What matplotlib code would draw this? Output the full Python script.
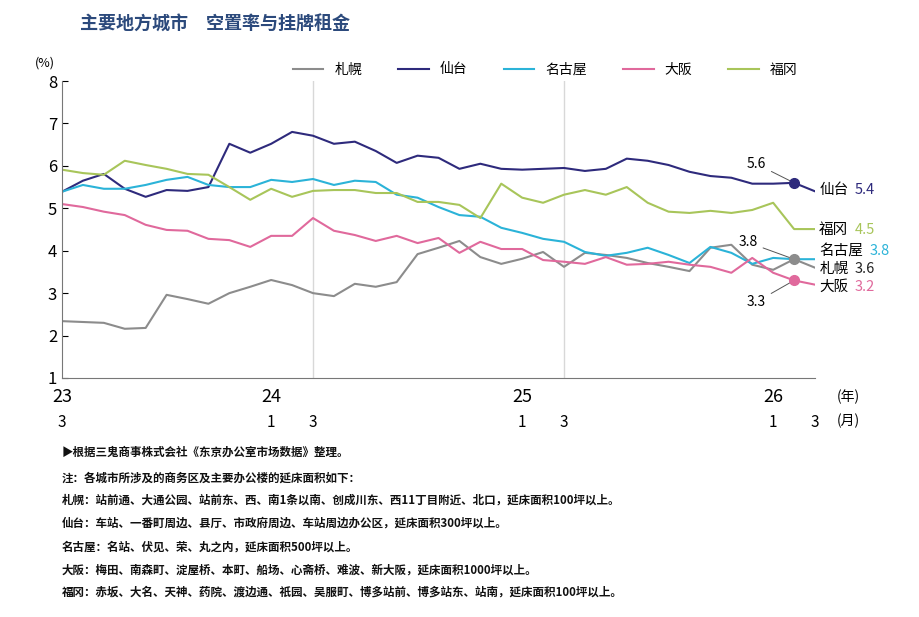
import numpy as np
import matplotlib.pyplot as plt

plt.rcParams['font.family'] = ['Noto Sans CJK SC', 'DejaVu Sans']

cities = ['札幌', '仙台', '名古屋', '大阪', '福冈']
colors = ['#8c8c8c', '#2e2a7c', '#2bb3d8', '#e0699c', '#a8c55a']

sapporo = [2.34, 2.32, 2.30, 2.16, 2.18, 2.96, 2.86, 2.75, 3.00, 3.15, 3.31, 3.19,
           3.00, 2.93, 3.22, 3.15, 3.26, 3.92, 4.07, 4.23, 3.85, 3.69, 3.81, 3.97,
           3.62, 3.95, 3.90, 3.83, 3.71, 3.62, 3.52, 4.07, 4.14, 3.67, 3.55, 3.80, 3.60]
sendai = [5.39, 5.65, 5.81, 5.46, 5.27, 5.43, 5.41, 5.50, 6.52, 6.31, 6.52, 6.80,
          6.71, 6.52, 6.57, 6.35, 6.07, 6.24, 6.19, 5.93, 6.05, 5.93, 5.91, 5.93,
          5.95, 5.88, 5.93, 6.17, 6.12, 6.02, 5.86, 5.76, 5.72, 5.58, 5.58, 5.60, 5.40]
nagoya = [5.39, 5.55, 5.46, 5.46, 5.55, 5.67, 5.74, 5.55, 5.50, 5.50, 5.67, 5.62,
          5.69, 5.55, 5.65, 5.62, 5.32, 5.25, 5.03, 4.84, 4.80, 4.54, 4.42, 4.28,
          4.21, 3.97, 3.88, 3.95, 4.07, 3.90, 3.71, 4.09, 3.95, 3.69, 3.83, 3.80, 3.80]
osaka = [5.10, 5.03, 4.92, 4.84, 4.61, 4.49, 4.47, 4.28, 4.25, 4.09, 4.35, 4.35,
         4.77, 4.47, 4.37, 4.23, 4.35, 4.18, 4.30, 3.95, 4.21, 4.04, 4.04, 3.78,
         3.74, 3.69, 3.85, 3.67, 3.69, 3.74, 3.67, 3.62, 3.48, 3.83, 3.48, 3.30, 3.20]
fukuoka = [5.91, 5.83, 5.79, 6.12, 6.02, 5.93, 5.81, 5.79, 5.50, 5.20, 5.46, 5.27,
           5.41, 5.43, 5.43, 5.36, 5.36, 5.15, 5.15, 5.08, 4.77, 5.58, 5.25, 5.13,
           5.32, 5.43, 5.32, 5.50, 5.13, 4.92, 4.89, 4.94, 4.89, 4.96, 5.13, 4.51, 4.51]
series = [sapporo, sendai, nagoya, osaka, fukuoka]

year_pos = [0, 10, 22, 34]
year_labels = ['23', '24', '25', '26']
month_pos = [0, 10, 12, 22, 24, 34, 36]
month_labels = ['3', '1', '3', '1', '3', '1', '3']

fig = plt.figure(figsize=(9.2, 6.17), dpi=100)
ax = fig.add_axes([62/920, 1-378/617, (815-62)/920, (378-81)/617])
x = np.arange(len(sendai))

for vals, c, name in zip(series, colors, cities):
    ax.plot(x, vals, color=c, lw=1.5, label=name)

for i in [12, 24]:
    ax.axvline(i, color='#d8d8d8', lw=1, zorder=0)

# highlighted markers for latest month
mk = [(sendai, colors[1]), (sapporo, colors[0]), (osaka, colors[3])]
for vals, c in mk:
    ax.plot(35, vals[35], 'o', color=c, ms=7, zorder=5)
ax.annotate('5.6', (35, sendai[35]), xytext=(33.2, 5.95), fontsize=10, ha='center',
            arrowprops=dict(arrowstyle='-', color='#555', lw=0.7))
ax.annotate('3.8', (35, sapporo[35]), xytext=(32.8, 4.1), fontsize=10, ha='center',
            arrowprops=dict(arrowstyle='-', color='#555', lw=0.7))
ax.annotate('3.3', (35, osaka[35]), xytext=(33.2, 2.7), fontsize=10, ha='center',
            arrowprops=dict(arrowstyle='-', color='#555', lw=0.7))

ends = [(1, 5.42, 5.4), (4, 4.5, 4.5), (2, 4.0, 3.8), (0, 3.57, 3.6), (3, 3.15, 3.2)]
for k, ypos, v in ends:
    ax.text(36.2, ypos, cities[k], fontsize=10.5, va='center', ha='left')
    off = {1: 37.9, 4: 37.9, 2: 38.6, 0: 37.9, 3: 37.9}[k]
    ax.text(off, ypos, f'{v:.1f}', fontsize=10.5, va='center', ha='left',
            color=colors[k] if k != 0 else '#222')

ax.set_xlim(0, 36)
ax.set_ylim(1, 8)
ax.set_yticks(range(1, 9))
ax.tick_params(axis='y', labelsize=12, length=4, direction='in')
ax.set_xticks(month_pos)
ax.set_xticklabels(month_labels, fontsize=11)
ax.tick_params(axis='x', length=0, pad=26)
for p, l in zip(year_pos, year_labels):
    ax.text(p, 0.55, l, fontsize=13, ha='center', va='center')
ax.text(37.6, 0.55, '(年)', fontsize=10, ha='center', va='center')
ax.text(37.6, -0.0, '(月)', fontsize=10, ha='center', va='center')
for s in ['top', 'right']:
    ax.spines[s].set_visible(False)
ax.spines['left'].set_color('#777')
ax.spines['bottom'].set_color('#777')
ax.text(-1.3, 8.35, '(%)', fontsize=9, ha='left')

fig.legend(loc='upper left', bbox_to_anchor=(280/920, 1-50/617), ncol=5, frameon=False,
           fontsize=10, handlelength=2.2, columnspacing=2.6)

fig.text(80/920, 1-24/617, '主要地方城市　空置率与挂牌租金', fontsize=13, fontweight='bold',
         color='#2c4a7c', va='center')

notes = ['▶根据三鬼商事株式会社《东京办公室市场数据》整理。',
         '注：各城市所涉及的商务区及主要办公楼的延床面积如下：',
         '札幌：站前通、大通公园、站前东、西、南1条以南、创成川东、西11丁目附近、北口，延床面积100坪以上。',
         '仙台：车站、一番町周边、县厅、市政府周边、车站周边办公区，延床面积300坪以上。',
         '名古屋：名站、伏见、荣、丸之内，延床面积500坪以上。',
         '大阪：梅田、南森町、淀屋桥、本町、船场、心斋桥、难波、新大阪，延床面积1000坪以上。',
         '福冈：赤坂、大名、天神、药院、渡边通、祇园、吴服町、博多站前、博多站东、站南，延床面积100坪以上。']
ys = [452, 478, 500, 523, 547, 570, 592]
for t, yy in zip(notes, ys):
    fig.text(62/920, 1-yy/617, t, fontsize=8.3, va='center', color='#111', fontweight='bold')

fig.savefig('out.png', dpi=100)
